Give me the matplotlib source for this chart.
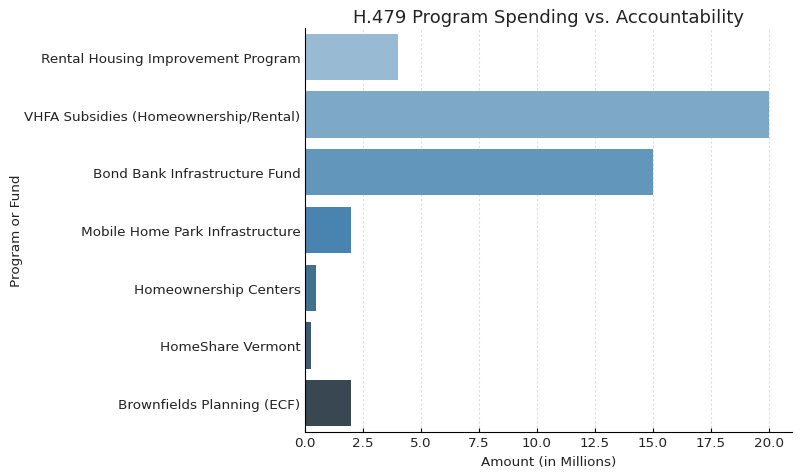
import matplotlib
matplotlib.use("Agg")
import matplotlib.pyplot as plt
import seaborn as sns

programs = [
    "Rental Housing Improvement Program",
    "VHFA Subsidies (Homeownership/Rental)",
    "Bond Bank Infrastructure Fund",
    "Mobile Home Park Infrastructure",
    "Homeownership Centers",
    "HomeShare Vermont",
    "Brownfields Planning (ECF)",
]
amounts = [4.0, 20.0, 15.0, 2.0, 0.5, 0.25, 2.0]
xticks = [0, 2.5, 5, 7.5, 10, 12.5, 15, 17.5, 20]
xticklabels = ["0.0", "2.5", "5.0", "7.5", "10.0", "12.5", "15.0", "17.5", "20.0"]

colors = [sns.desaturate(c, 0.75) for c in sns.color_palette("Blues_d", len(programs))]
txt = "#222222"

fig = plt.figure(figsize=(8, 4.77), dpi=100)
ax = fig.add_axes([0.381, 0.0922, 0.609, 0.847])
ypos = list(range(len(programs)))
ax.barh(ypos, amounts, height=0.8, color=colors, zorder=2)
ax.set_yticks(ypos)
ax.set_yticklabels(programs, fontsize=9.7, color=txt)
ax.set_ylim(len(programs) - 0.5, -0.5)
ax.set_xlim(0, 21)
ax.set_xticks(xticks)
ax.set_xticklabels(xticklabels, fontsize=9.7, color=txt)
ax.tick_params(axis="both", direction="in", length=3, pad=3)
ax.grid(axis="x", linestyle=(0, (2, 2)), color="#dcdcdc", linewidth=0.8, zorder=0)
ax.spines["top"].set_visible(False)
ax.spines["right"].set_visible(False)
ax.set_xlabel("Amount (in Millions)", fontsize=9.7, color=txt, labelpad=4)
ax.set_ylabel("Program or Fund", fontsize=9.7, color=txt, labelpad=1)
ax.set_title("H.479 Program Spending vs. Accountability", fontsize=13, color=txt, pad=4)
fig.savefig("out.png", dpi=100)
